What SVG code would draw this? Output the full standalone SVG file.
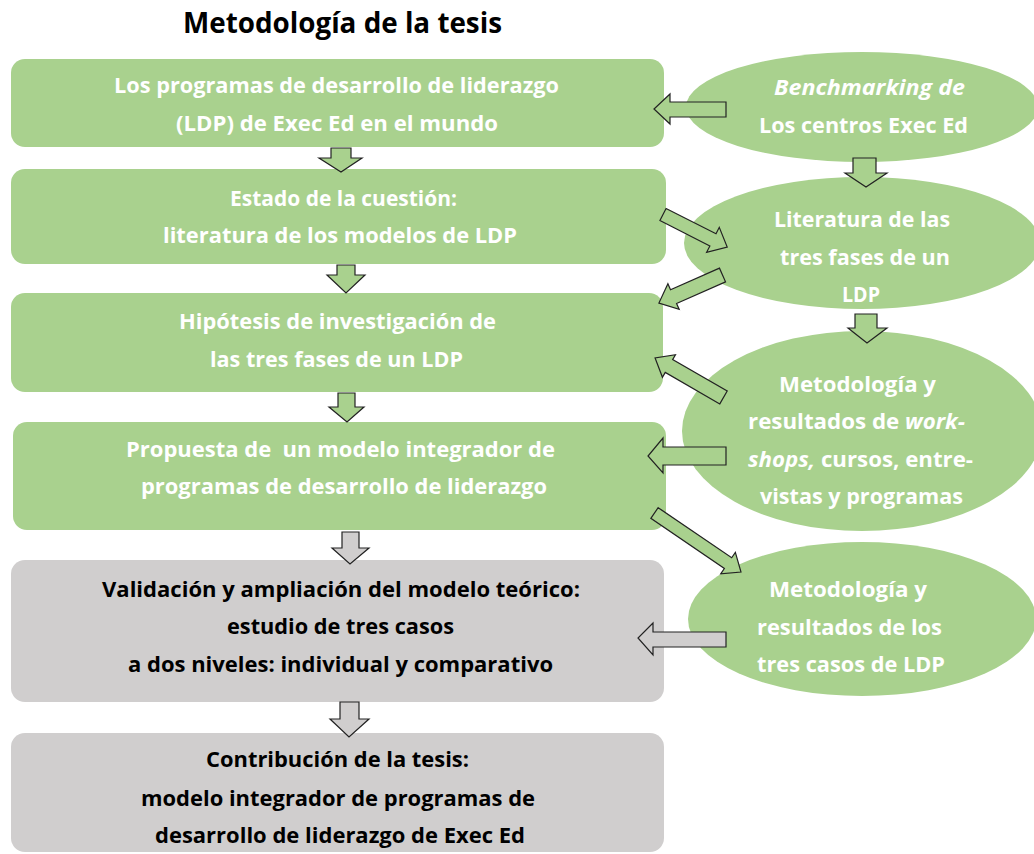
<svg xmlns="http://www.w3.org/2000/svg" width="1034" height="854" viewBox="0 0 1034 854">
<style>
text{font-family:"Open Sans","Noto Sans","Liberation Sans",sans-serif;font-weight:bold;font-size:21.5px;text-anchor:middle;white-space:pre}
.w{fill:#ffffff}
.k{fill:#000000}
.g{fill:#a9d18e}
.gr{fill:#d0cece}
.ar{stroke:#222;stroke-width:1.2;stroke-linejoin:miter}
.it{font-style:italic}
.title{font-size:28px;fill:#000}
</style>
<rect width="1034" height="854" fill="#ffffff"/>
<text class="title" x="342.5" y="33" textLength="319" lengthAdjust="spacingAndGlyphs">Metodología de la tesis</text>

<g id="box1">
<rect class="g" x="11" y="59" width="653" height="88" rx="14"/>
<text class="w" x="336.5" y="93" textLength="445" lengthAdjust="spacingAndGlyphs">Los programas de desarrollo de liderazgo</text>
<text class="w" x="337" y="131" textLength="322" lengthAdjust="spacingAndGlyphs">(LDP) de Exec Ed en el mundo</text>
</g>
<g id="box2">
<rect class="g" x="11" y="169" width="655" height="95" rx="14"/>
<text class="w" x="343.5" y="206" textLength="227" lengthAdjust="spacingAndGlyphs">Estado de la cuestión:</text>
<text class="w" x="340" y="243" textLength="354" lengthAdjust="spacingAndGlyphs">literatura de los modelos de LDP</text>
</g>
<g id="box3">
<rect class="g" x="11" y="293" width="652" height="99" rx="14"/>
<text class="w" x="337.5" y="329" textLength="317" lengthAdjust="spacingAndGlyphs">Hipótesis de investigación de</text>
<text class="w" x="336.5" y="367" textLength="253" lengthAdjust="spacingAndGlyphs">las tres fases de un LDP</text>
</g>
<g id="box4">
<rect class="g" x="13" y="422" width="653" height="108" rx="14"/>
<text class="w" x="340.5" y="457" textLength="429" lengthAdjust="spacingAndGlyphs">Propuesta de  un modelo integrador de</text>
<text class="w" x="344" y="494" textLength="406" lengthAdjust="spacingAndGlyphs">programas de desarrollo de liderazgo</text>
</g>
<g id="box5">
<rect class="gr" x="11" y="560" width="653" height="142" rx="14"/>
<text class="k" x="341" y="597" textLength="478" lengthAdjust="spacingAndGlyphs">Validación y ampliación del modelo teórico:</text>
<text class="k" x="340.5" y="634" textLength="227" lengthAdjust="spacingAndGlyphs">estudio de tres casos</text>
<text class="k" x="340.5" y="672" textLength="425" lengthAdjust="spacingAndGlyphs">a dos niveles: individual y comparativo</text>
</g>
<g id="box6">
<rect class="gr" x="11" y="733" width="653" height="119" rx="14"/>
<text class="k" x="337.5" y="767" textLength="263" lengthAdjust="spacingAndGlyphs">Contribución de la tesis:</text>
<text class="k" x="338" y="806" textLength="394" lengthAdjust="spacingAndGlyphs">modelo integrador de programas de</text>
<text class="k" x="340" y="843" textLength="370" lengthAdjust="spacingAndGlyphs">desarrollo de liderazgo de Exec Ed</text>
</g>

<g id="ell1">
<ellipse class="g" cx="862" cy="107" rx="176" ry="55"/>
<text class="w it" x="869.5" y="95" textLength="191" lengthAdjust="spacingAndGlyphs">Benchmarking de</text>
<text class="w" x="863.5" y="133" textLength="209" lengthAdjust="spacingAndGlyphs">Los centros Exec Ed</text>
</g>
<g id="ell2">
<ellipse class="g" cx="862" cy="243" rx="178" ry="66"/>
<text class="w" x="862" y="227" textLength="176" lengthAdjust="spacingAndGlyphs">Literatura de las</text>
<text class="w" x="865" y="265" textLength="170" lengthAdjust="spacingAndGlyphs">tres fases de un</text>
<text class="w" x="861" y="302" textLength="38" lengthAdjust="spacingAndGlyphs">LDP</text>
</g>
<g id="ell3">
<ellipse class="g" cx="862" cy="431" rx="180" ry="100"/>
<text class="w" x="857.5" y="392" textLength="157" lengthAdjust="spacingAndGlyphs">Metodología y</text>
<text class="w" x="856.5" y="429" textLength="217" lengthAdjust="spacingAndGlyphs">resultados de <tspan class="it">work-</tspan></text>
<text class="w" x="860.5" y="467" textLength="225" lengthAdjust="spacingAndGlyphs"><tspan class="it">shops,</tspan> cursos, entre-</text>
<text class="w" x="861.5" y="504" textLength="203" lengthAdjust="spacingAndGlyphs">vistas y programas</text>
</g>
<g id="ell4">
<ellipse class="g" cx="862" cy="619" rx="174" ry="77"/>
<text class="w" x="848" y="597" textLength="158" lengthAdjust="spacingAndGlyphs">Metodología y</text>
<text class="w" x="849.5" y="635" textLength="185" lengthAdjust="spacingAndGlyphs">resultados de los</text>
<text class="w" x="851" y="672" textLength="188" lengthAdjust="spacingAndGlyphs">tres casos de LDP</text>
</g>

<g id="connectors">
<polygon class="g ar" points="331,148 351,148 351,158 362,158 341,172 319,158 331,158"/>
<polygon class="g ar" points="337,265 355,265 355,275 365,275 346,293 327,275 337,275"/>
<polygon class="g ar" points="338,393 355,393 355,407 364,407 347,422 329,407 338,407"/>
<polygon class="gr ar" points="342,532 359,532 359,548 369,548 350,564 332,548 342,548"/>
<polygon class="gr ar" points="340,702 359,702 359,719 369,719 349,737 330,719 340,719"/>
<polygon class="g ar" points="853,158 876,158 876,173 887,173 866,187 845,173 853,173"/>
<polygon class="g ar" points="855,314 877,314 877,328 887,328 867,343 848,328 855,328"/>
<polygon class="g ar" points="726,102 726,117 670,117 670,124 654,109 670,94 670,102"/>
<polygon class="g ar" points="726,447 726,465 663,465 663,473 648,456 663,438 663,447"/>
<polygon class="gr ar" points="726,632 726,647 653,647 653,655 638,638 653,623 653,632"/>
<polygon class="g ar" transform="translate(663,214.5) rotate(26.9)" points="0,-6.8 56,-6.8 56,-14 72,0 56,14 56,6.8 0,6.8"/>
<polygon class="g ar" transform="translate(722.5,275) rotate(156.2)" points="0,-7.5 53.5,-7.5 53.5,-14 69.5,0 53.5,14 53.5,7.5 0,7.5"/>
<polygon class="g ar" transform="translate(723.5,397.5) rotate(210)" points="0,-7.4 63,-7.4 63,-13 79,0 63,13 63,7.4 0,7.4"/>
<polygon class="g ar" transform="translate(654.5,513) rotate(34.3)" points="0,-6.5 89,-6.5 89,-13 104.7,0 89,13 89,6.5 0,6.5"/>
</g>
</svg>
